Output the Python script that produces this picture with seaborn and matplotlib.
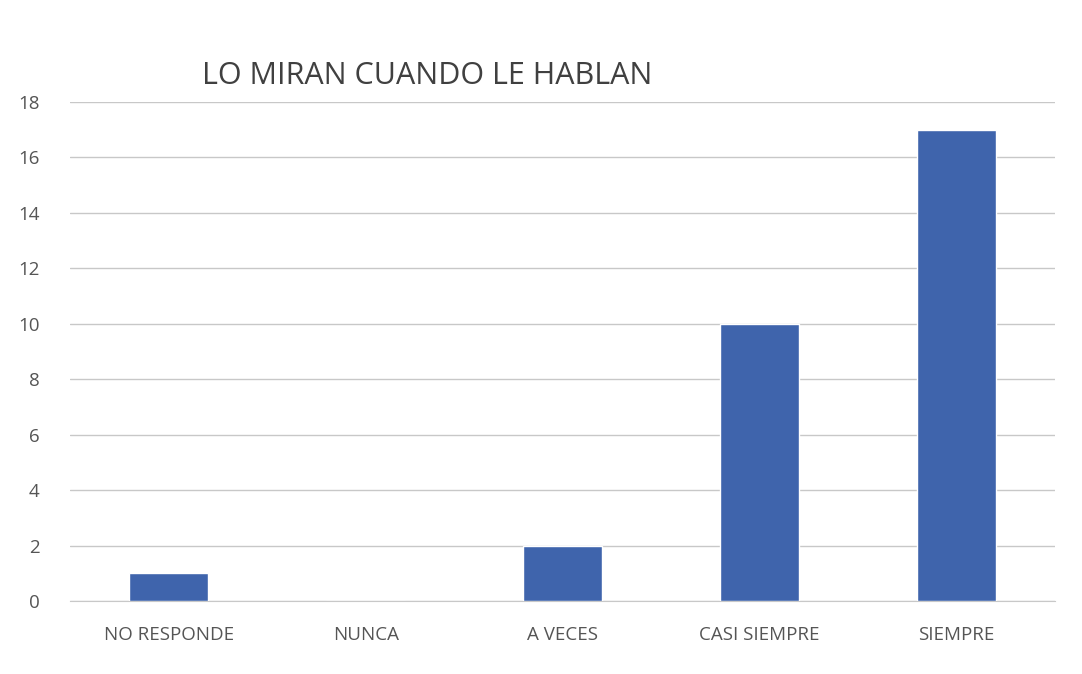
import numpy as np
import pandas as pd
import matplotlib.pyplot as plt
import seaborn as sns

categorias = ['NO RESPONDE', 'NUNCA', 'A VECES', 'CASI SIEMPRE', 'SIEMPRE']
valores = [1, 0, 2, 10, 17]

df = pd.DataFrame({'respuesta': categorias, 'n': valores})

sns.set_style('white')
plt.rcParams['font.family'] = ['Open Sans', 'DejaVu Sans']

fig = plt.figure(figsize=(10.82, 6.74), dpi=100)
ax = fig.add_axes([0.065, 0.108, 0.91, 0.741])
sns.barplot(data=df, x='respuesta', y='n', color='#3F64AC', width=0.4,
            saturation=1, ax=ax, zorder=3)

ax.set_ylim(0, 18)
ax.set_yticks(range(0, 19, 2))
ax.yaxis.grid(True, color='#c8c8c8', linewidth=1, zorder=0)
for s in ax.spines.values():
    s.set_visible(False)
ax.spines['bottom'].set_visible(True)
ax.spines['bottom'].set_color('#c8c8c8')
ax.tick_params(axis='both', colors='#555555', labelsize=13.5, length=0)
ax.tick_params(axis='y', pad=22)
ax.tick_params(axis='x', pad=18)
ax.set_xlabel('')
ax.set_ylabel('')

fig.text(0.187, 0.875, 'LO MIRAN CUANDO LE HABLAN', fontsize=22, color='#404040')

fig.savefig('out.png', dpi=100)
